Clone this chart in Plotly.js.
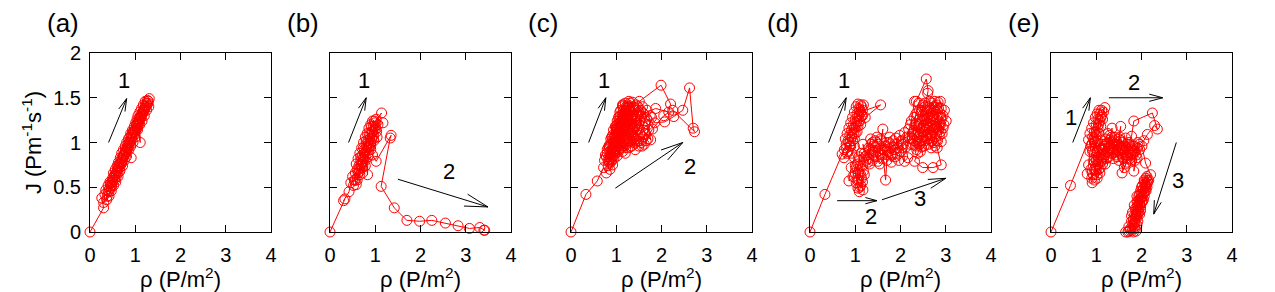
<!DOCTYPE html>
<html>
<head>
<meta charset="utf-8">
<script src="https://cdn.plot.ly/plotly-3.0.1.min.js"></script>
<style>
  html, body { margin: 0; padding: 0; background: #ffffff; }
  #chart { width: 1275px; height: 292px; }
</style>
</head>
<body>
<div id="chart"></div>
<script>
// ---- data: [rho (P/m^2), J (P m^-1 s^-1)] along each run's trajectory ----
const ptsA = [[0,0],[0.30,0.27],[0.26,0.38],[0.33,0.42],[0.30,0.33],[0.38,0.40],[0.35,0.47],[0.42,0.45],[0.40,0.52],[0.47,0.50],[0.44,0.56],[0.50,0.60],[0.48,0.52],[0.55,0.58],[0.52,0.66],[0.58,0.62],[0.56,0.70],[0.62,0.66],[0.60,0.74],[0.66,0.72],[0.63,0.78],[0.69,0.76],[0.67,0.83],[0.72,0.80],[0.70,0.88],[0.76,0.85],[0.74,0.92],[0.80,0.90],[0.78,0.96],[0.83,0.93],[0.81,1.00],[0.87,0.98],[0.85,1.04],[0.91,0.83],[0.88,1.06],[0.93,1.04],[0.90,1.10],[0.96,1.08],[0.94,1.14],[1.00,1.12],[0.98,1.18],[1.04,1.16],[1.01,1.22],[1.07,1.20],[1.04,1.26],[1.11,1.00],[1.08,1.24],[1.06,1.30],[1.12,1.28],[1.10,1.34],[1.16,1.32],[1.14,1.38],[1.20,1.36],[1.18,1.42],[1.24,1.40],[1.22,1.46],[1.28,1.44],[1.31,1.49],[1.27,1.47],[1.30,1.40],[1.25,1.36],[1.20,1.30],[1.15,1.24],[1.10,1.20],[1.05,1.14],[1.00,1.06],[0.95,1.00],[0.90,0.96],[0.86,0.92],[0.80,0.84],[0.76,0.80],[0.72,0.74],[0.66,0.68],[0.62,0.62],[0.57,0.56],[0.52,0.52],[0.47,0.46],[0.42,0.40],[0.37,0.36],[0.40,0.46],[0.45,0.54],[0.50,0.56],[0.55,0.64],[0.60,0.68],[0.64,0.74],[0.70,0.78],[0.74,0.86],[0.78,0.90],[0.84,0.98],[0.88,1.00],[0.92,1.08],[0.97,1.12],[1.02,1.18],[1.06,1.22],[1.10,1.28],[1.14,1.32],[1.18,1.36],[1.22,1.40],[1.26,1.42],[1.20,1.38],[1.13,1.30],[1.08,1.26],[1.03,1.20],[0.99,1.14],[0.94,1.10],[0.89,1.02],[0.84,0.96],[0.79,0.92],[0.75,0.86],[0.70,0.82],[0.65,0.76],[0.61,0.70],[0.56,0.64],[0.51,0.58],[0.46,0.52],[0.43,0.48],[0.48,0.56],[0.53,0.62],[0.58,0.66],[0.63,0.72],[0.68,0.78],[0.73,0.84],[0.77,0.88],[0.82,0.94],[0.86,1.00],[0.92,1.06],[0.96,1.12],[1.01,1.14],[1.05,1.20],[1.09,1.24],[1.13,1.28],[1.17,1.34],[1.21,1.38],[1.25,1.44],[1.29,1.46]];

const ptsB = [[0,0],[0.33,0.37],[0.30,0.35],[0.42,0.45],[0.46,0.55],[0.52,0.52],[0.50,0.62],[0.56,0.66],[0.54,0.58],[0.60,0.70],[0.58,0.76],[0.64,0.74],[0.62,0.82],[0.68,0.80],[0.66,0.88],[0.72,0.86],[0.70,0.94],[0.76,0.92],[0.74,1.00],[0.80,0.98],[0.78,1.06],[0.84,1.02],[0.82,1.10],[0.88,1.08],[0.86,1.16],[0.92,1.12],[0.90,1.20],[0.96,1.18],[0.94,1.24],[1.00,1.22],[1.14,1.33],[1.02,1.26],[1.17,1.22],[0.98,1.14],[0.92,1.04],[0.86,0.96],[0.80,0.90],[0.74,0.82],[0.68,0.74],[0.62,0.66],[0.56,0.58],[0.58,0.53],[0.66,0.68],[0.72,0.78],[0.78,0.84],[0.83,0.64],[0.84,0.94],[0.90,1.00],[0.96,1.08],[1.02,1.15],[1.06,1.20],[1.03,1.12],[0.97,1.02],[0.90,0.96],[0.84,0.88],[0.78,0.80],[0.72,0.72],[0.66,0.64],[0.60,0.58],[0.64,0.70],[0.70,0.78],[0.76,0.88],[0.82,0.96],[0.88,1.04],[0.94,1.12],[1.00,1.18],[0.96,1.04],[0.90,0.92],[0.84,0.84],[0.78,0.74],[0.72,0.66],[0.68,0.84],[0.74,0.94],[0.80,1.02],[0.86,1.10],[0.92,1.18],[0.98,1.24],[1.04,1.06],[0.94,0.86],[1.02,0.79],[1.35,1.08],[1.33,1.05],[1.13,0.51],[1.42,0.27],[1.70,0.13],[1.98,0.12],[2.25,0.13],[2.55,0.10],[2.83,0.07],[3.08,0.04],[3.31,0.05],[3.42,0.02],[3.40,0.02]];

const ptsC = [[0,0],[0.33,0.42],[0.58,0.57],[0.72,0.72],[0.78,0.66],[0.82,0.80],[0.76,0.86],[0.88,0.78],[0.85,0.95],[0.92,0.88],[0.80,0.92],[0.95,1.02],[0.90,1.06],[1.00,0.96],[1.02,1.15],[0.98,1.18],[1.08,1.10],[1.05,1.28],[1.12,1.22],[1.00,1.05],[1.10,1.36],[1.18,1.30],[1.15,1.42],[1.22,1.40],[1.12,1.15],[1.25,1.25],[1.20,1.08],[1.30,1.35],[1.28,1.46],[1.38,1.40],[1.35,1.20],[1.45,1.30],[1.51,1.46],[1.99,1.64],[2.20,1.43],[2.16,1.34],[1.87,1.38],[1.60,1.32],[1.50,1.15],[1.40,1.05],[1.30,0.95],[1.18,1.00],[1.05,0.90],[0.95,0.82],[0.86,0.70],[0.92,0.75],[1.02,0.85],[1.10,0.94],[1.20,0.88],[1.32,1.02],[1.42,0.92],[1.55,1.00],[1.57,0.96],[1.65,1.10],[1.76,1.03],[1.70,1.20],[1.62,1.28],[1.75,1.30],[1.85,1.22],[2.07,1.23],[2.27,1.29],[2.47,1.36],[2.62,1.61],[2.70,1.16],[2.73,1.12],[2.25,1.36],[2.05,1.30],[1.80,1.15],[1.66,1.02],[1.48,1.08],[1.36,1.15],[1.25,1.18],[1.14,1.05],[1.04,0.98],[0.96,0.90],[0.88,0.86],[0.82,0.74],[0.90,0.92],[0.98,1.08],[1.06,1.18],[1.14,1.26],[1.20,1.35],[1.26,1.42],[1.32,1.30],[1.40,1.36],[1.48,1.40],[1.55,1.30],[1.45,1.22],[1.35,1.10],[1.25,1.02],[1.15,0.96],[1.08,1.02],[1.00,1.12],[0.94,1.00],[0.86,0.90],[0.78,0.84],[0.84,0.96],[0.92,1.04],[1.00,1.18],[1.08,1.30],[1.16,1.36],[1.24,1.30],[1.18,1.20],[1.12,1.10],[1.04,1.06],[0.98,0.95],[1.06,0.92],[1.15,1.14],[1.24,1.20],[1.34,1.26],[1.42,1.18],[1.52,1.24],[1.60,1.14],[1.70,1.04],[1.62,0.98],[1.50,0.96],[1.38,1.00],[1.28,1.10],[1.20,1.22],[1.14,1.32],[1.06,1.24],[1.00,1.14],[0.92,1.08],[0.86,0.98],[0.80,0.88],[0.74,0.80],[0.84,0.84],[0.94,0.94],[1.02,1.02],[1.12,1.18],[1.22,1.28],[1.30,1.38],[1.36,1.45],[1.42,1.28],[1.50,1.34],[1.58,1.40],[1.68,1.36],[1.78,1.28],[1.72,1.14],[1.60,1.06],[1.46,1.02],[1.35,1.08],[1.26,1.15],[1.18,1.25],[1.14,1.40],[1.08,1.34],[1.02,1.24],[0.94,1.14],[0.88,1.04],[0.82,0.94],[0.90,0.98],[0.96,1.06],[1.04,1.16],[1.10,1.24],[1.16,1.32],[1.22,1.38],[1.28,1.40],[1.24,1.34],[1.18,1.28],[1.12,1.20],[1.06,1.12],[1.00,1.00],[0.94,0.92],[0.88,0.82],[0.84,0.78],[0.92,0.84],[1.00,0.92],[1.08,0.98],[1.16,1.06],[1.24,1.12],[1.32,1.18],[1.40,1.24],[1.46,1.14],[1.38,1.08],[1.30,1.04],[1.22,0.98],[1.14,0.90],[1.26,0.94],[1.34,0.96],[1.44,1.04],[1.52,1.10],[1.58,1.18],[1.64,1.24],[1.54,1.36],[1.44,1.42],[1.34,1.34],[1.26,1.26],[1.18,1.16],[1.10,1.08],[1.02,0.98],[0.96,0.86],[0.90,0.80],[0.98,0.90],[1.06,1.04],[1.14,1.12],[1.20,1.18],[1.28,1.22],[1.36,1.30],[1.42,1.38],[1.48,1.30],[1.40,1.16],[1.32,1.12],[1.24,1.06],[1.16,1.00],[1.08,1.14],[1.02,1.20],[1.08,1.28],[1.14,1.42],[1.20,1.44],[1.30,1.44],[1.22,1.32],[1.16,1.22],[1.08,1.22],[1.00,1.16]];

const ptsD = [[0,0],[0.33,0.42],[0.71,0.87],[0.76,0.92],[0.80,0.98],[0.78,1.04],[0.84,1.02],[0.82,1.10],[0.88,1.08],[0.86,1.16],[0.92,1.14],[0.90,1.22],[0.96,1.20],[0.94,1.28],[1.00,1.26],[0.98,1.34],[1.04,1.32],[1.02,1.40],[1.08,1.38],[1.06,1.43],[1.12,1.42],[1.10,1.36],[1.14,1.40],[1.08,1.30],[1.12,1.34],[1.56,1.42],[1.22,1.28],[1.16,1.36],[1.18,1.42],[1.14,1.30],[1.08,1.24],[1.04,1.24],[0.98,1.16],[1.02,1.18],[0.96,1.10],[0.92,1.06],[0.98,1.04],[0.86,1.00],[0.90,0.96],[0.80,0.94],[0.84,0.90],[0.75,0.83],[0.82,0.88],[0.88,0.96],[0.94,1.02],[1.00,1.10],[1.06,1.18],[1.10,1.24],[1.16,1.30],[1.12,1.20],[1.04,1.12],[0.98,0.96],[0.92,0.88],
  [0.98,0.83],[0.91,0.72],[0.86,0.57],[0.95,0.62],[1.00,0.74],[1.06,0.66],[1.02,0.55],[1.06,0.49],[1.09,0.45],[1.12,0.52],[1.17,0.47],[1.14,0.60],[1.20,0.64],[1.16,0.74],[1.10,0.80],[1.04,0.70],[1.08,0.58],[1.12,0.64],[1.06,0.76],[1.00,0.66],[1.04,0.58],[1.10,0.50],[1.16,0.56],[1.18,0.68],[1.12,0.74],[1.08,0.84],[1.14,0.88],[1.24,0.85],[1.17,0.98],[1.20,0.88],[1.28,0.78],
  [1.30,0.82],[1.35,0.98],[1.42,0.90],[1.38,0.80],[1.50,0.79],[1.45,0.95],[1.55,0.88],[1.61,1.15],[1.58,1.02],[1.67,0.58],[1.70,0.80],[1.65,0.92],[1.79,0.87],[1.75,1.00],[1.85,0.95],[1.94,0.94],[1.90,1.05],[2.00,0.90],[1.96,0.80],[1.88,0.84],[1.80,0.78],[1.72,0.86],[1.62,0.82],[1.54,0.76],[1.46,0.84],[1.40,0.96],[1.32,0.92],[1.26,0.86],[1.34,1.04],[1.44,1.02],[1.52,0.98],[1.60,0.92],[1.68,1.00],[1.76,1.06],[1.84,1.02],[1.92,0.98],[2.02,1.02],[1.98,1.08],[1.88,0.92],[1.78,0.94],[1.70,0.92],[1.60,0.86],[1.50,0.90],[1.40,0.86],[1.32,0.76],[1.24,0.80],[1.30,0.94],[1.38,1.00],[1.48,1.06],[1.56,1.04],[1.64,0.96],[1.74,0.90],[1.82,0.86],[1.92,0.88],[2.04,0.94],[2.09,1.11],[2.05,0.98],[2.09,0.79],[2.16,0.83],[2.12,0.95],[2.20,1.05],
  [2.18,1.15],[2.26,1.10],[2.24,1.24],[2.31,1.46],[2.35,1.46],[2.57,1.71],[2.61,1.58],[2.60,1.55],[2.55,1.40],[2.48,1.30],[2.40,1.20],[2.32,1.08],[2.28,0.98],[2.36,0.92],[2.44,1.02],[2.50,1.12],[2.58,1.22],[2.66,1.32],[2.74,1.40],[2.83,1.45],[2.90,1.38],[2.97,1.36],[3.01,1.24],[2.94,1.16],[2.86,1.08],[2.90,1.01],[2.81,0.94],[2.90,0.75],[2.72,0.72],[2.49,0.72],[2.31,0.79],[2.38,0.88],[2.46,0.95],[2.54,1.02],[2.62,1.10],[2.70,1.18],[2.78,1.26],[2.86,1.30],[2.78,1.20],[2.70,1.08],[2.62,0.98],[2.55,1.14],[2.48,1.25],[2.42,1.36],[2.50,1.42],[2.58,1.35],[2.66,1.24],[2.74,1.14],[2.82,1.02],[2.76,0.96],[2.68,1.02],[2.60,1.28],[2.52,1.18],[2.44,1.10],[2.36,1.18],[2.30,1.28],[2.22,1.20],[2.14,1.06],[2.22,0.98],[2.30,1.02],[2.38,1.06],[2.46,1.16],[2.54,1.26],[2.62,1.36],[2.70,1.44],[2.78,1.34],[2.86,1.22],[2.92,1.10],[2.84,1.14],[2.76,1.06],[2.68,0.94],[2.60,1.04],[2.52,0.96],[2.44,0.90],[2.36,1.00],[2.28,1.12],[2.34,1.32],[2.40,1.44],[2.46,1.34],[2.54,1.44],[2.64,1.46],[2.72,1.30],[2.80,1.42],[2.88,1.46],[2.94,1.30],[2.88,1.20],[2.80,1.10],[2.72,1.22],[2.64,1.16],[2.56,1.08],[2.48,1.02],[2.40,1.12],[2.32,1.20],[2.26,1.04],[2.34,0.96],[2.42,0.98],[2.50,1.06],[2.58,1.14],[2.66,1.08],[2.74,1.00],[2.82,1.16],[2.90,1.28],[2.96,1.20],[2.88,1.12],[2.80,1.28],[2.72,1.36],[2.64,1.28],[2.56,1.20],[2.48,1.36],[2.42,1.26],[2.50,1.18],[2.58,1.26],[2.66,1.38],[2.76,1.46],[2.84,1.38],[2.80,1.18]];

const ptsE = [[0,0],[0.43,0.52],[0.83,1.03],[0.88,0.96],[0.86,1.10],[0.92,1.06],[0.90,1.16],[0.96,1.12],[0.94,1.22],[1.00,1.20],[0.98,1.28],[1.04,1.26],[1.02,1.32],[1.08,1.32],[1.06,1.36],[1.12,1.36],[1.19,1.39],[1.16,1.34],[1.12,1.30],[1.14,1.26],[1.08,1.24],[1.10,1.18],[1.04,1.16],[1.06,1.10],[1.00,1.08],[1.02,1.02],[0.96,1.00],[0.98,0.94],[0.92,0.92],[1.10,1.28],[1.05,1.20],[1.00,1.12],[0.95,1.04],[0.90,0.98],[0.86,0.90],[0.83,0.75],[0.80,0.65],[0.91,0.55],[0.88,0.70],[0.95,0.80],[0.92,0.90],[0.98,1.00],[1.02,0.90],[1.02,0.64],[1.09,0.72],[1.06,0.84],[1.14,0.92],[1.17,0.87],[1.24,0.83],[1.20,0.98],[1.31,1.03],[1.35,1.16],[1.28,0.94],[1.36,0.88],[1.42,0.98],[1.48,0.90],[1.54,1.18],[1.50,1.04],[1.57,0.94],[1.60,0.82],[1.57,0.66],[1.65,0.76],[1.68,0.83],[1.65,1.05],[1.72,0.98],[1.76,0.94],[1.78,1.07],[1.83,1.24],[2.24,1.33],[2.35,1.15],[2.29,1.19],[2.13,1.09],[2.05,1.02],[1.95,0.98],[1.90,0.83],[1.83,0.68],[1.86,0.90],[1.80,0.96],[1.70,0.90],[1.62,0.96],[1.55,1.02],[1.46,0.96],[1.40,1.06],[1.32,0.94],[1.26,0.90],[1.18,0.96],[1.12,1.02],[1.08,0.92],[1.00,0.80],[0.96,0.70],[1.04,0.76],[1.12,0.80],[1.20,0.76],[1.28,0.84],[1.36,0.92],[1.44,0.86],[1.52,0.94],[1.60,0.90],[1.70,0.86],[1.78,0.80],[1.88,0.86],[1.96,0.92],
  [1.80,0.92],[1.72,1.00],[1.64,0.92],[1.58,0.84],[1.50,0.80],[1.44,0.92],[1.38,1.00],[1.30,1.08],[1.24,1.00],[1.16,0.92],[1.10,0.86],[1.04,0.80],[0.98,0.74],[0.94,0.64],[0.90,0.60],[0.96,0.58],[1.00,0.68],[1.06,0.70],[1.10,0.78],[1.16,0.84],[1.22,0.90],[1.28,0.98],[1.34,0.94],[1.40,0.90],[1.46,0.98],[1.52,1.06],[1.58,1.00],[1.66,0.94],[1.74,0.92],[1.84,0.96],[1.92,1.00],[1.86,0.80],[1.76,0.86],[1.68,0.78],[1.62,0.72],[1.54,0.88],[1.46,0.84],[1.38,0.82],[1.30,0.88],[1.22,0.82],[1.14,0.76],[1.08,0.66],[1.02,0.60],[0.96,0.78],[1.00,0.86],[1.06,0.94],[1.12,0.98],[1.20,1.04],[1.26,1.10],[1.34,1.06],[1.42,1.02],[1.50,0.96],[1.58,0.92],[1.66,0.86],[1.74,0.82],[1.82,0.88],[1.90,0.94],
  [2.01,0.96],[2.09,0.77],[2.20,0.64],[2.13,0.58],[2.08,0.52],[2.10,0.46],[2.04,0.48],[2.06,0.40],[2.00,0.42],[2.02,0.34],[1.96,0.36],[1.98,0.28],[1.92,0.30],[1.94,0.22],[1.88,0.24],[1.90,0.16],[1.84,0.18],[1.86,0.10],[1.81,0.08],[1.78,0.12],[1.76,0.04],[1.72,0.01],[1.65,0.00],[1.70,0.00],[1.75,0.02],[1.88,0.01],[1.84,0.06],[1.86,0.14],[1.92,0.20],[1.90,0.28],[1.96,0.32],[1.94,0.40],[2.00,0.38],[1.98,0.46],[2.04,0.44],[2.02,0.52],[2.08,0.50],[2.06,0.56],[2.12,0.54],[2.10,0.60],[2.14,0.56],[2.08,0.46],[2.02,0.40],[1.96,0.30],[1.92,0.24],[1.88,0.18],[1.82,0.14],[1.80,0.22],[1.86,0.26],[1.90,0.34],[1.96,0.42],[2.00,0.50],[2.06,0.58],[2.12,0.62],[2.16,0.58],[2.10,0.52],[2.04,0.36],[1.98,0.24],[1.92,0.12],[1.86,0.04],[1.80,0.02],[1.84,0.10],[1.88,0.20],[1.94,0.26],[1.92,0.34],[1.98,0.38],[2.02,0.46],[2.08,0.54],[2.12,0.50],[2.06,0.44],[2.00,0.34],[1.96,0.20],[1.90,0.08],[1.82,0.00],[1.72,0.06],[1.78,0.18],[1.84,0.30],[1.90,0.40]];

// ---- arrows [rho0, J0, rho1, J1] and their numeric labels [rho, J, text] ----
const arrowsA = [[0.41,1.00,0.81,1.49]];
const arrowsB = [[0.41,1.00,0.80,1.50],[1.50,0.59,3.49,0.28]];
const arrowsC = [[0.39,1.00,0.77,1.50],[0.98,0.49,2.47,1.00]];
const arrowsD = [[0.41,1.00,0.80,1.50],[0.60,0.35,1.48,0.35],[1.59,0.36,3.00,0.60]];
const arrowsE = [[0.48,1.00,0.87,1.50],[1.28,1.50,2.47,1.50],[2.77,1.00,2.27,0.20]];
const labelsA = [[0.75,1.69,'1']];
const labelsB = [[0.75,1.69,'1'],[2.64,0.68,'2']];
const labelsC = [[0.72,1.69,'1'],[2.62,0.73,'2']];
const labelsD = [[0.75,1.69,'1'],[1.35,0.17,'2'],[2.44,0.37,'3']];
const labelsE = [[0.45,1.28,'1'],[1.83,1.67,'2'],[2.81,0.57,'3']];

const xTicks = [0,1,2,3,4];
const yTicks = [0,0.5,1,1.5,2];
const panelNames = ['(a)','(b)','(c)','(d)','(e)'];

// arrow head lengths in px for each panel's arrows
const headLen = [[13],[13,24],[13,23],[13,12,18],[13,14,14]];

// ---- layout geometry ----
const W = 1275, H = 292;
const plotLeft = [90, 330, 571, 810, 1051];
const plotW = 181, plotTop = 53, plotBottom = 232;
const xRange = [0, 4], yRange = [0, 2];
const pxPerX = plotW / (xRange[1] - xRange[0]);
const pxPerY = (plotBottom - plotTop) / (yRange[1] - yRange[0]);

const FONT = 'Liberation Sans, Arial, Helvetica, sans-serif';
const RED = '#ff0000';

const series = [ptsA, ptsB, ptsC, ptsD, ptsE];
const arrowSets = [arrowsA, arrowsB, arrowsC, arrowsD, arrowsE];
const labelSets = [labelsA, labelsB, labelsC, labelsD, labelsE];

const traces = [];
const annotations = [];
const layout = {
  width: W, height: H,
  margin: {l: 0, r: 0, t: 0, b: 0},
  paper_bgcolor: '#ffffff', plot_bgcolor: '#ffffff',
  showlegend: false,
  font: {family: FONT, color: '#000000', size: 19},
  annotations: annotations
};

function headPoints(a, len) {
  const [x0, y0, x1, y1] = a;
  const dx = (x1 - x0) * pxPerX, dy = (y1 - y0) * pxPerY;
  const ang = Math.atan2(dy, dx);
  const spread = 15 * Math.PI / 180;
  return [ang + spread, ang - spread].map(t =>
    [x1 - len * Math.cos(t) / pxPerX, y1 - len * Math.sin(t) / pxPerY]);
}

series.forEach((pts, i) => {
  const n = i + 1;
  const sfx = n === 1 ? '' : String(n);
  const xa = 'xaxis' + sfx, ya = 'yaxis' + sfx;
  const xr = 'x' + sfx, yr = 'y' + sfx;

  traces.push({
    type: 'scatter', mode: 'lines+markers',
    x: pts.map(p => p[0]), y: pts.map(p => p[1]), xaxis: xr, yaxis: yr,
    line: {color: RED, width: 1},
    marker: {symbol: 'circle-open', size: 10, color: RED, line: {color: RED, width: 1}},
    cliponaxis: false, hoverinfo: 'skip'
  });

  // arrows: shaft plus open two-stroke head
  const ax = [], ay = [];
  arrowSets[i].forEach((a, k) => {
    const hp = headPoints(a, headLen[i][k]);
    ax.push(a[0], a[2], null, hp[0][0], a[2], hp[1][0], null);
    ay.push(a[1], a[3], null, hp[0][1], a[3], hp[1][1], null);
  });
  traces.push({
    type: 'scatter', mode: 'lines', x: ax, y: ay, xaxis: xr, yaxis: yr,
    line: {color: '#000000', width: 1}, connectgaps: false,
    cliponaxis: false, hoverinfo: 'skip'
  });

  labelSets[i].forEach(l => {
    annotations.push({
      xref: xr, yref: yr, x: l[0], y: l[1], text: l[2], showarrow: false,
      xanchor: 'center', yanchor: 'middle',
      font: {family: FONT, size: 22, color: '#000000'}
    });
  });

  annotations.push({
    xref: 'paper', yref: 'paper',
    x: (plotLeft[i] - 45) / W, y: (H - 23) / H,
    text: panelNames[i], showarrow: false,
    xanchor: 'left', yanchor: 'middle',
    font: {family: FONT, size: 26, color: '#000000'}
  });

  layout[xa] = {
    domain: [plotLeft[i] / W, (plotLeft[i] + plotW) / W],
    anchor: yr, range: xRange,
    tickmode: 'array', tickvals: xTicks, ticktext: xTicks.map(String),
    ticks: 'inside', ticklen: 7, tickwidth: 1, tickcolor: '#000000',
    showline: true, linecolor: '#000000', linewidth: 1, mirror: 'ticks',
    showgrid: false, zeroline: false,
    tickfont: {family: FONT, size: 20, color: '#000000'},
    ticklabelstandoff: 5,
    title: {text: 'ρ (P/m<sup>2</sup>)', font: {family: FONT, size: 22, color: '#000000'}, standoff: 3}
  };
  layout[ya] = {
    domain: [(H - plotBottom) / H, (H - plotTop) / H],
    anchor: xr, range: yRange,
    tickmode: 'array', tickvals: yTicks, ticktext: yTicks.map(String),
    ticks: 'inside', ticklen: 7, tickwidth: 1, tickcolor: '#000000',
    showline: true, linecolor: '#000000', linewidth: 1, mirror: 'ticks',
    showgrid: false, zeroline: false,
    showticklabels: i === 0,
    tickfont: {family: FONT, size: 20, color: '#000000'},
    ticklabelstandoff: 4
  };
  if (i === 0) {
    layout[ya].title = {text: 'J (Pm<sup>-1</sup>s<sup>-1</sup>)', font: {family: FONT, size: 22, color: '#000000'}, standoff: 5};
  }
});

Plotly.newPlot('chart', traces, layout, {staticPlot: true, displayModeBar: false});
</script>
</body>
</html>
